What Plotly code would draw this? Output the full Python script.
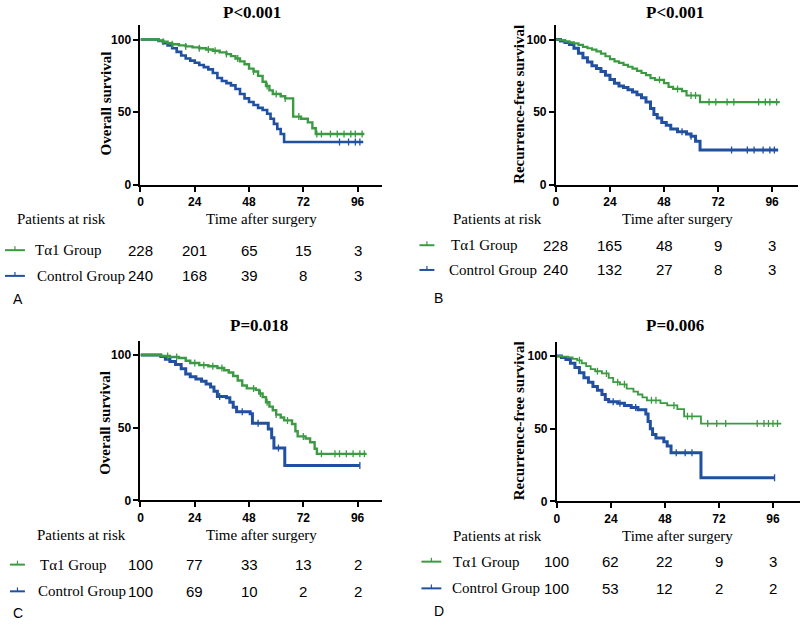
import numpy as np
import plotly.graph_objects as go

# ----------------------------------
# DATA (months / %)
# ----------------------------------

months_ticks = [0, 24, 48, 72, 96]
groups = ["Tα1 Group", "Control Group"]

# A - overall survival, all patients
a_tal_t = [0, 8, 10, 12, 14, 17, 20, 23, 26, 29, 32, 35, 38, 40, 42, 44, 46, 48, 50, 52,
           54, 55.5, 57, 58.5, 62, 64, 67.5, 71, 74, 76, 77.5]
a_tal_s = [100, 99.3, 98.5, 97.5, 96.8, 96, 95.3, 94.6, 94, 93.2, 92.3, 91.2, 90, 88.6, 87,
           85, 83, 80, 78, 75, 71, 68, 65, 62.5, 61, 59.5, 47, 45.5, 43, 39, 35]
a_tal_end = 99
a_tal_cens = [10, 14, 20, 26, 30, 33, 38, 43, 50, 56, 60, 64, 70, 78, 80, 84, 87, 90, 93, 95, 98]
a_ctl_t = [0, 8, 10, 12, 14, 16, 18, 20, 22, 24, 26, 28, 30, 32, 34, 36, 38, 40, 42, 44, 46,
           48, 50, 52, 54, 56, 57.5, 59, 60.5, 62, 63.5]
a_ctl_s = [100, 99, 97.5, 96, 94, 91.5, 89, 87, 85.5, 84, 82.5, 81, 79.5, 77, 73.5, 71.5, 70,
           68.5, 66, 62.5, 59.5, 57, 55, 53, 51.5, 49, 45.5, 42, 38.5, 35, 29.5]
a_ctl_end = 98.5
a_ctl_cens = [88, 92, 95, 97]
a_risk_tal = [228, 201, 65, 15, 3]
a_risk_ctl = [240, 168, 39, 8, 3]

# B - recurrence-free survival, all patients
b_tal_t = [0, 2, 4, 6, 8, 10, 12, 14, 16, 18, 20, 22, 24, 26, 28, 30, 32, 34, 36, 38, 40, 42,
           44, 48, 50, 52, 56, 58, 64]
b_tal_s = [100, 99.5, 98.8, 98, 97.3, 96.3, 95, 94, 93, 91.8, 90.3, 88.5, 86.5, 85, 84, 82.6,
           81.3, 80, 78.5, 77, 75.5, 73.5, 72.3, 70, 67.5, 66, 64.5, 61.5, 57]
b_tal_end = 99.4
b_tal_cens = [46, 54, 60, 62, 68, 71, 76, 79, 90, 93, 95, 98]
b_ctl_t = [0, 2, 4, 6, 8, 10, 12, 14, 16, 18, 20, 22, 24, 26, 28, 30, 32, 34, 36, 38, 40, 42,
           43.5, 45, 47, 49, 51, 54, 58, 60, 62, 64]
b_ctl_s = [100, 99, 98, 96.6, 94, 90.5, 87.5, 84.5, 82, 80, 78, 75.5, 72.5, 70, 68, 67, 65.5,
           64, 62, 60, 57, 52.5, 48.5, 46, 43, 41, 38.5, 36.5, 35, 33.5, 30, 24]
b_ctl_end = 98.7
b_ctl_cens = [56, 60, 78, 85, 88, 92, 95, 97]
b_risk_tal = [228, 165, 48, 9, 3]
b_risk_ctl = [240, 132, 27, 8, 3]

# C - overall survival, matched patients
c_tal_t = [0, 9, 13, 17, 20, 22, 26, 30, 34, 37, 39, 41, 43, 45, 47, 51, 52.5, 54, 55.5, 57,
           58.5, 60, 62, 63.5, 67, 68.5, 69.5, 73, 75, 77, 78]
c_tal_s = [100, 99.3, 98.6, 97.9, 96, 94.5, 93, 92.3, 91, 89.5, 88, 85.5, 82.5, 79, 77, 76,
           73.5, 71, 67.5, 64.5, 62, 59, 57, 55, 52.5, 47.5, 44, 42.5, 40, 35.5, 32]
c_tal_end = 100
c_tal_cens = [12, 16, 24, 28, 32, 36, 50, 53, 56, 60, 65, 72, 80, 86, 88, 91, 94, 97, 99]
c_ctl_t = [0, 9, 11, 13, 15.5, 18, 20, 22, 24.5, 27, 29, 31, 32.5, 34, 38, 39.5, 41, 42.5,
           48.5, 49.5, 56.5, 58, 59, 63.8]
c_ctl_s = [100, 99, 97, 95.5, 93.5, 90.5, 87, 85, 83.5, 82, 80, 78, 75, 71.5, 70.5, 67.5, 64,
           61, 59.5, 53, 49, 43, 36, 24]
c_ctl_end = 97
c_ctl_cens = [35, 45, 52, 61, 97]
c_risk_tal = [100, 77, 33, 13, 2]
c_risk_ctl = [100, 69, 10, 2, 2]

# D - recurrence-free survival, matched patients
d_tal_t = [0, 2, 5, 7, 9, 11, 13, 15, 17, 20, 23, 25, 28, 31, 34, 36, 38, 40, 46, 49, 53.5,
           56.5, 64]
d_tal_s = [100, 99.5, 99, 98, 97, 95, 93, 91, 89.5, 88, 85, 82, 80.5, 77.5, 75.5, 73.5, 71.5,
           69.5, 67.5, 66, 63.5, 58.5, 53.5]
d_tal_end = 99.7
d_tal_cens = [10, 18, 22, 27, 30, 42, 44, 52, 58, 60, 67, 71, 75, 89, 92, 94, 96, 98]
d_ctl_t = [0, 2, 4, 6, 8, 10, 12, 14, 16, 18, 20, 21.5, 23, 27, 30, 33, 36, 39.5, 40.5, 41.5,
           42.5, 44, 47.5, 49, 50.7, 64]
d_ctl_s = [100, 99, 97.5, 95, 92, 88.5, 85, 82, 79, 76.5, 73.5, 70, 68.5, 67.5, 66, 64.5, 63,
           60, 55, 50, 46, 43.5, 41, 38, 33.5, 16.3]
d_ctl_end = 96.7
d_ctl_cens = [25, 28, 35, 53, 57, 60, 96.7]
d_risk_tal = [100, 62, 22, 9, 3]
d_risk_ctl = [100, 53, 12, 2, 2]

# ----------------------------------
# STYLE
# ----------------------------------

GREEN = "#3b9a42"
BLUE = "#2150a0"
SERIF = "Liberation Serif, Times New Roman, serif"
SANS = "Liberation Sans, Arial, sans-serif"
W, H = 800, 627


def py(px):
    # pixel row -> paper y
    return 1 - px / H


def km_line(t, s, end, color, width, n):
    return go.Scatter(
        x=list(t) + [end], y=list(s) + [s[-1]],
        mode="lines", line=dict(color=color, width=width, shape="hv"),
        xaxis="x" + n, yaxis="y" + n, showlegend=False, hoverinfo="skip"
    )


def km_cens(t, s, cens, color, n):
    idx = np.searchsorted(np.array(t), np.array(cens), side="right") - 1
    return go.Scatter(
        x=cens, y=np.array(s)[idx],
        mode="markers",
        marker=dict(symbol="line-ns-open", size=5, color=color,
                    line=dict(color=color, width=1.3)),
        xaxis="x" + n, yaxis="y" + n, showlegend=False, hoverinfo="skip"
    )


def text_ann(text, x, y, size, family, xanchor="center", **kw):
    return dict(
        text=text, x=x, y=y, xref=kw.pop("xref", "paper"), yref="paper",
        xanchor=xanchor, yanchor="middle", showarrow=False,
        font=dict(family=family, size=size, color="black"), **kw
    )


panels = [
    dict(n="", tal=(a_tal_t, a_tal_s, a_tal_end, a_tal_cens), ctl=(a_ctl_t, a_ctl_s, a_ctl_end, a_ctl_cens),
         risk=(a_risk_tal, a_risk_ctl), title="P<0.001", ylab="Overall survival",
         xd=(138, 380), yd=(25, 187), xr=106.6, widths=(2.4, 2.6),
         title_x=250, title_y=13, ylab_x=103, ylab_y=105,
         head_y=221, rows=(253, 279), letter="A", letter_xy=(15, 302),
         leg_x=(2, 22), text_x=(30, 32), par_x=12, time_x=259),
    dict(n="2", tal=(b_tal_t, b_tal_s, b_tal_end, b_tal_cens), ctl=(b_ctl_t, b_ctl_s, b_ctl_end, b_ctl_cens),
         risk=(b_risk_tal, b_risk_ctl), title="P<0.001", ylab="Recurrence-free survival",
         xd=(555, 798), yd=(25, 187), xr=107.5, widths=(2.2, 3),
         title_x=675, title_y=13, ylab_x=518, ylab_y=106,
         head_y=221, rows=(248, 273), letter="B", letter_xy=(437, 301),
         leg_x=(418, 433), text_x=(448, 446), par_x=450, time_x=677),
    dict(n="3", tal=(c_tal_t, c_tal_s, c_tal_end, c_tal_cens), ctl=(c_ctl_t, c_ctl_s, c_ctl_end, c_ctl_cens),
         risk=(c_risk_tal, c_risk_ctl), title="P=0.018", ylab="Overall survival",
         xd=(138, 380), yd=(345, 506), xr=106.6, widths=(2.4, 3),
         title_x=257, title_y=329, ylab_x=103, ylab_y=428,
         head_y=541, rows=(571, 598), letter="C", letter_xy=(15, 620),
         leg_x=(7, 22), text_x=(35, 33), par_x=32, time_x=259),
    dict(n="4", tal=(d_tal_t, d_tal_s, d_tal_end, d_tal_cens), ctl=(d_ctl_t, d_ctl_s, d_ctl_end, d_ctl_cens),
         risk=(d_risk_tal, d_risk_ctl), title="P=0.006", ylab="Recurrence-free survival",
         xd=(556, 800), yd=(346, 507), xr=108, widths=(1.8, 3),
         title_x=675, title_y=329, ylab_x=518, ylab_y=426,
         head_y=542, rows=(568, 595), letter="D", letter_xy=(438, 618),
         leg_x=(420, 440), text_x=(450, 449), par_x=450, time_x=677),
]

fig = go.Figure()
annotations = []
shapes = []
layout = {}

for p in panels:
    n = p["n"]
    t, s, end, cens = p["ctl"]
    fig.add_trace(km_line(t, s, end, BLUE, p["widths"][1], n))
    fig.add_trace(km_cens(t, s, cens, BLUE, n))
    t, s, end, cens = p["tal"]
    fig.add_trace(km_line(t, s, end, GREEN, p["widths"][0], n))
    fig.add_trace(km_cens(t, s, cens, GREEN, n))

    axis_common = dict(
        showline=True, linecolor="black", linewidth=2, ticks="outside",
        ticklen=5, tickwidth=2, tickcolor="black", showgrid=False, zeroline=False,
        tickfont=dict(family=SANS, size=12, color="black", weight="bold"),
        fixedrange=True
    )
    ppx = (187 - 25) / 110.2
    y_top = (p["yd"][1] - p["yd"][0]) / ppx
    layout["xaxis" + n] = dict(
        axis_common, domain=[p["xd"][0] / W, p["xd"][1] / W], range=[0, p["xr"]],
        tickvals=months_ticks, anchor="y" + n
    )
    layout["yaxis" + n] = dict(
        axis_common, domain=[py(p["yd"][1]), py(p["yd"][0])], range=[0, y_top],
        tickvals=[0, 50, 100], anchor="x" + n
    )

    annotations.append(text_ann("<b>%s</b>" % p["title"], p["title_x"] / W, py(p["title_y"]), 17, SERIF))
    annotations.append(text_ann("<b>%s</b>" % p["ylab"], p["ylab_x"] / W, py(p["ylab_y"]), 15, SERIF,
                                textangle=-90))
    annotations.append(text_ann("Patients at risk", p["par_x"] / W, py(p["head_y"]), 15, SERIF,
                                xanchor="left"))
    annotations.append(text_ann("Time after surgery", p["time_x"] / W, py(p["head_y"]), 15, SERIF))
    annotations.append(text_ann(p["letter"], p["letter_xy"][0] / W, py(p["letter_xy"][1]), 14, SANS))

    for name, color, row_y, tx, risk in zip(
            groups, [GREEN, BLUE], p["rows"], p["text_x"], p["risk"]):
        # legend glyph: short line with a small censor tick
        x0, x1 = p["leg_x"]
        shapes.append(dict(type="line", xref="paper", yref="paper",
                           x0=x0 / W, x1=x1 / W, y0=py(row_y), y1=py(row_y),
                           line=dict(color=color, width=2)))
        xm = (x0 + x1) / 2
        shapes.append(dict(type="line", xref="paper", yref="paper",
                           x0=xm / W, x1=xm / W, y0=py(row_y), y1=py(row_y - 4),
                           line=dict(color=color, width=1.2)))
        annotations.append(text_ann(name, tx / W, py(row_y), 15, SERIF, xanchor="left"))
        for m, v in zip(months_ticks, risk):
            annotations.append(text_ann(str(v), m, py(row_y), 15, SANS, xref="x" + n))

fig.update_layout(
    width=W, height=H,
    margin=dict(l=0, r=0, t=0, b=0),
    paper_bgcolor="white", plot_bgcolor="white",
    annotations=annotations, shapes=shapes,
    **layout
)

# drop the page's default body margin so the figure sits at the window corner
fig.write_html(
    "out.html",
    config={"displayModeBar": False},
    post_script="document.body.style.margin='0';"
)
